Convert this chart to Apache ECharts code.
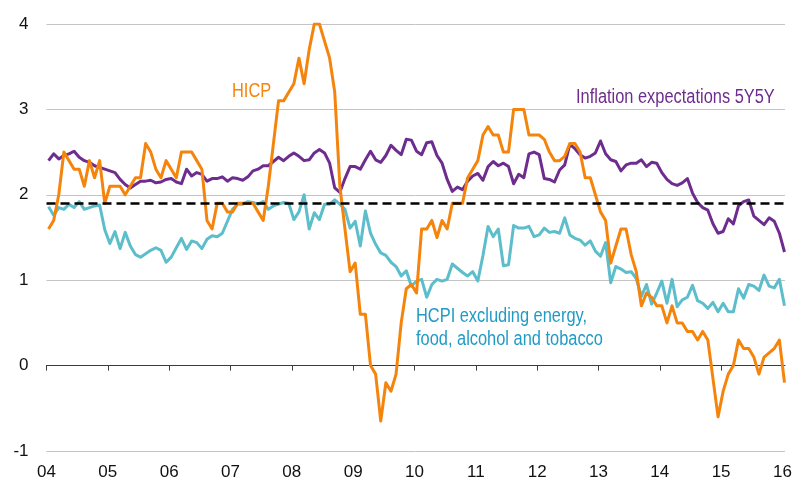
<!DOCTYPE html>
<html>
<head>
<meta charset="utf-8">
<script src="https://cdn.jsdelivr.net/npm/echarts@6/dist/echarts.min.js"></script>
<style>
  html, body { margin: 0; padding: 0; background: #fff; }
  #chart { width: 792px; height: 484px; }
</style>
</head>
<body>
<div id="chart"></div>
<script>
// monthly annual rates, Feb 2004 .. Feb 2016
const hicp = [
  1.6, 1.7, 2.0, 2.5, 2.4, 2.3, 2.3, 2.1, 2.4, 2.2, 2.4,
  1.9, 2.1, 2.1, 2.1, 2.0, 2.1, 2.2, 2.2, 2.6, 2.5, 2.3, 2.2,
  2.4, 2.3, 2.2, 2.5, 2.5, 2.5, 2.4, 2.3, 1.7, 1.6, 1.9, 1.9,
  1.8, 1.8, 1.9, 1.9, 1.9, 1.9, 1.8, 1.7, 2.1, 2.6, 3.1, 3.1,
  3.2, 3.3, 3.6, 3.3, 3.7, 4.0, 4.0, 3.8, 3.6, 3.2, 2.1, 1.6,
  1.1, 1.2, 0.6, 0.6, 0.0, -0.1, -0.65, -0.2, -0.3, -0.1, 0.5, 0.9,
  0.95, 0.85, 1.6, 1.6, 1.7, 1.5, 1.7, 1.6, 1.9, 1.9, 1.9, 2.2,
  2.3, 2.4, 2.7, 2.8, 2.7, 2.7, 2.5, 2.5, 3.0, 3.0, 3.0, 2.7,
  2.7, 2.7, 2.65, 2.5, 2.4, 2.4, 2.45, 2.6, 2.6, 2.5, 2.2, 2.2,
  2.0, 1.8, 1.7, 1.2, 1.4, 1.6, 1.6, 1.3, 1.1, 0.7, 0.85, 0.8,
  0.7, 0.7, 0.5, 0.7, 0.5, 0.5, 0.4, 0.4, 0.3, 0.4, 0.3, -0.15,
  -0.6, -0.3, -0.1, 0.0, 0.3, 0.2, 0.2, 0.1, -0.1, 0.1, 0.15, 0.2,
  0.3, -0.2
]

const hicpCore = [
  1.86, 1.76, 1.85, 1.83, 1.89, 1.85, 1.92, 1.83, 1.85, 1.87, 1.88,
  1.59, 1.43, 1.57, 1.37, 1.56, 1.40, 1.30, 1.27, 1.31, 1.35, 1.38, 1.35,
  1.21, 1.27, 1.38, 1.49, 1.36, 1.46, 1.44, 1.37, 1.48, 1.52, 1.51, 1.55,
  1.69, 1.83, 1.89, 1.89, 1.92, 1.91, 1.89, 1.92, 1.83, 1.87, 1.89, 1.91,
  1.90, 1.71, 1.80, 2.00, 1.60, 1.79, 1.71, 1.89, 1.89, 1.94, 1.89, 1.83,
  1.61, 1.69, 1.40, 1.81, 1.55, 1.42, 1.32, 1.29, 1.21, 1.16, 1.05, 1.11,
  0.93, 0.99, 1.01, 0.80, 0.95, 1.01, 0.99, 1.01, 1.19, 1.14, 1.09, 1.05,
  1.10, 0.99, 1.29, 1.63, 1.51, 1.60, 1.17, 1.18, 1.64, 1.61, 1.61, 1.63,
  1.51, 1.53, 1.61, 1.56, 1.57, 1.55, 1.73, 1.53, 1.49, 1.47, 1.41, 1.46,
  1.34, 1.28, 1.44, 0.97, 1.16, 1.13, 1.09, 1.10, 1.02, 0.81, 0.95, 0.72,
  0.85, 0.99, 0.73, 1.01, 0.69, 0.77, 0.80, 0.94, 0.76, 0.73, 0.67, 0.74,
  0.63, 0.73, 0.63, 0.63, 0.90, 0.79, 0.95, 0.93, 0.88, 1.06, 0.93, 0.91,
  1.01, 0.70
]

const expectations5y5y = [
  2.40, 2.48, 2.42, 2.46, 2.48, 2.51, 2.44, 2.40, 2.38, 2.34, 2.32,
  2.30, 2.28, 2.26, 2.18, 2.12, 2.08, 2.12, 2.16, 2.16, 2.17, 2.14, 2.15,
  2.18, 2.19, 2.15, 2.13, 2.30, 2.22, 2.26, 2.24, 2.16, 2.19, 2.19, 2.21,
  2.16, 2.20, 2.19, 2.17, 2.21, 2.28, 2.30, 2.34, 2.34, 2.39, 2.44, 2.40,
  2.45, 2.49, 2.45, 2.40, 2.41, 2.49, 2.53, 2.49, 2.37, 2.08, 2.03, 2.19,
  2.33, 2.33, 2.30, 2.41, 2.51, 2.41, 2.38, 2.46, 2.58, 2.52, 2.47, 2.65,
  2.64, 2.51, 2.47, 2.61, 2.62, 2.46, 2.37, 2.18, 2.04, 2.09, 2.06, 2.16,
  2.22, 2.25, 2.17, 2.33, 2.39, 2.34, 2.37, 2.33, 2.13, 2.24, 2.20, 2.48,
  2.50, 2.47, 2.19, 2.18, 2.15, 2.29, 2.35, 2.59, 2.54, 2.47, 2.43, 2.45,
  2.49, 2.63, 2.48, 2.41, 2.39, 2.28, 2.35, 2.37, 2.37, 2.41, 2.33, 2.38,
  2.37, 2.26, 2.18, 2.13, 2.11, 2.14, 2.19, 2.02, 1.91, 1.85, 1.82, 1.66,
  1.55, 1.57, 1.72, 1.66, 1.87, 1.92, 1.94, 1.75, 1.70, 1.65, 1.73, 1.69,
  1.55, 1.33
]

const yearLabels = ['04', '05', '06', '07', '08', '09', '10', '11', '12', '13', '14', '15', '16']
const targetLevel = 1.9

const FONT = "'Liberation Sans', Arial, sans-serif"
const yearTicks = yearLabels.map((_, i) => i * 12)

// x is in months from Jan 2004; each monthly point sits just after its month start
const toPoints = (list) => list.map((v, i) => [i + 0.4, v])

const chart = echarts.init(document.getElementById('chart'))

const lineSeries = (name, data, color) => ({
  name,
  type: 'line',
  data: toPoints(data),
  showSymbol: false,
  silent: true,
  lineStyle: { width: 3, color, join: 'round' },
  itemStyle: { color }
})

// narrow-looking annotation text
const note = (x, y, text, fill) => ({
  type: 'text',
  x,
  y,
  scaleX: 0.82,
  silent: true,
  style: { text, fill, font: '20px ' + FONT, verticalAlign: 'middle', lineHeight: 23 }
})

const monthAxis = {
  type: 'value',
  min: 0,
  max: 144.5,
  splitLine: { show: false }
}

const option = {
  animation: false,
  grid: { left: 46.5, right: 7, top: 24, bottom: 33, outerBoundsMode: 'none' },
  xAxis: [
    {
      // year labels along the bottom
      ...monthAxis,
      position: 'bottom',
      axisLine: { show: false, onZero: false },
      axisTick: { show: false },
      axisLabel: {
        customValues: yearTicks,
        margin: 13,
        fontSize: 17,
        color: '#111',
        fontFamily: FONT,
        formatter: (v) => yearLabels[Math.round(v / 12)]
      }
    },
    {
      // zero line with the year ticks hanging below it
      ...monthAxis,
      position: 'top',
      axisLine: { show: true, onZero: true, lineStyle: { color: '#3c3c3c', width: 1 } },
      axisTick: { show: true, inside: true, length: 5, customValues: yearTicks, lineStyle: { color: '#3c3c3c' } },
      axisLabel: { show: false }
    }
  ],
  yAxis: {
    type: 'value',
    min: -1,
    max: 4,
    interval: 1,
    axisLine: { show: false },
    axisTick: { show: false },
    axisLabel: { fontSize: 17, color: '#111', fontFamily: FONT, margin: 18 },
    splitLine: { lineStyle: { color: '#c4c4c4', width: 1 } }
  },
  series: [
    lineSeries('HCPI excluding energy, food, alcohol and tobacco', hicpCore, '#5cbdcb'),
    lineSeries('Inflation expectations 5Y5Y', expectations5y5y, '#6e2d8e'),
    lineSeries('HICP', hicp, '#f5840c'),
    {
      name: 'target',
      type: 'line',
      data: [],
      z: 5,
      markLine: {
        silent: true,
        symbol: 'none',
        label: { show: false },
        lineStyle: { color: '#000', width: 2.5, type: [9, 5] },
        data: [{ yAxis: targetLevel }]
      }
    }
  ],
  graphic: [
    note(232, 91, 'HICP', '#f5840c'),
    note(576, 97, 'Inflation expectations 5Y5Y', '#6e2d8e'),
    note(416, 328, 'HCPI excluding energy,\nfood, alcohol and tobacco', '#1f9bc4')
  ]
}

chart.setOption(option)
window.addEventListener('resize', () => chart.resize())
</script>
</body>
</html>
